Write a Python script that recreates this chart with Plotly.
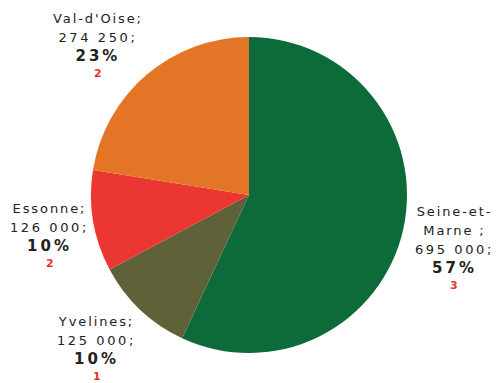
import math
import plotly.graph_objects as go

# Départements and their values
departements = ["Seine-et-Marne", "Yvelines", "Essonne", "Val-d'Oise"]
noms_affiches = ["Seine-et-<br>Marne ;", "Yvelines;", "Essonne;", "Val-d'Oise;"]
valeurs = [695000, 125000, 126000, 274250]
pourcentages = [57, 10, 10, 23]
rangs = [3, 1, 2, 2]
couleurs = ["#0c6b39", "#5f6239", "#ec3631", "#e57526"]

fig = go.Figure(
    go.Pie(
        labels=departements,
        values=valeurs,
        sort=False,
        direction="clockwise",
        rotation=0,
        marker=dict(colors=couleurs, line=dict(width=0)),
        textinfo="none",
        hoverinfo="label+value+percent",
        showlegend=False,
        domain=dict(x=[0, 1], y=[0, 1]),
    )
)

W, H = 501, 383
ml, mr, mt, mb = 91, 94, 37, 30
pw, ph = W - ml - mr, H - mt - mb
cx, cy = ml + pw / 2, mt + ph / 2
R = min(pw, ph) / 2

# label placement: distance from the centre (in pie radii) and pixel nudges
distance_etiquettes = [1.33, 1.355, 1.28, 1.38]
decalages = [(0, 0), (-5, 9), (0, 0), (-10, -9)]
taille_base = 14.6
interligne = 1.3 * taille_base

total = sum(valeurs)


def fmt(v):
    return f"{v:,}".replace(",", " ")


def ligne(t, espacement=1.9):
    return f"<span style='font-size:13px;letter-spacing:{espacement}px'>{t}</span>"


def vers_papier(px, py):
    return (px - ml) / pw, 1 - (py - mt) / ph


cumul = 0
for nom, v, pct, rg, k, (dx, dy) in zip(noms_affiches, valeurs, pourcentages,
                                        rangs, distance_etiquettes, decalages):
    frac = v / total
    mid = (cumul + frac / 2) * 2 * math.pi
    cumul += frac
    px = cx + k * R * math.sin(mid)
    py = cy - k * R * math.cos(mid)

    lignes = [ligne(p) for p in nom.split("<br>")]
    lignes.append(ligne(fmt(v) + ";", 2.6))
    lignes.append(
        f"<b><span style='font-size:15px;letter-spacing:3px'>{pct}%</span></b>"
    )
    xp, yp = vers_papier(px, py)
    fig.add_annotation(
        x=xp, y=yp, xref="paper", yref="paper",
        xshift=dx, yshift=dy,
        text="<br>".join(lignes),
        showarrow=False, xanchor="center", yanchor="middle", align="center",
        font=dict(family="DejaVu Sans", size=taille_base, color="#222222"),
    )

    # rank shown in red under the percentage
    y_rang = py + (len(lignes) - 1) / 2 * interligne + 16
    xr, yr = vers_papier(px, y_rang)
    fig.add_annotation(
        x=xr, y=yr, xref="paper", yref="paper",
        xshift=dx, yshift=dy,
        text=f"<b>{rg}</b>",
        showarrow=False, xanchor="center", yanchor="middle",
        font=dict(family="DejaVu Sans", size=11, color="#e8312c"),
    )

fig.update_layout(
    width=W,
    height=H,
    margin=dict(l=ml, r=mr, t=mt, b=mb),
    paper_bgcolor="white",
    plot_bgcolor="white",
)

fig.write_html("out.html")
